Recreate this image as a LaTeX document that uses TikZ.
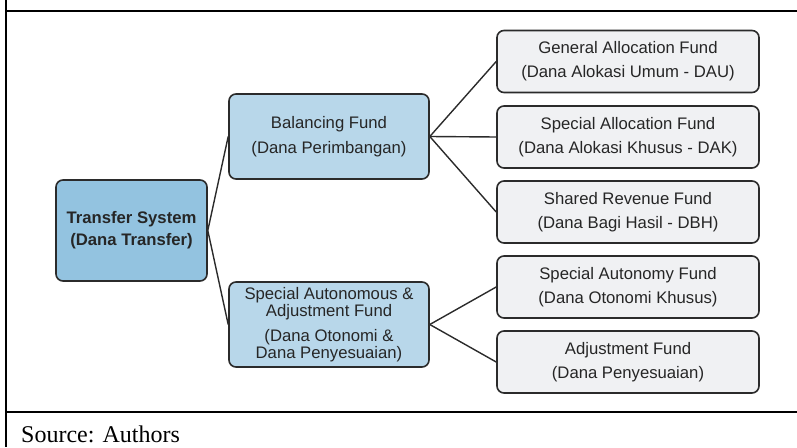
\documentclass[tikz,border=0pt]{standalone}
\usepackage{fontspec}
\setmainfont{Liberation Serif}
\newfontfamily\boxfont{Liberation Sans}
\definecolor{rootfill}{HTML}{93C3E0}
\definecolor{midfill}{HTML}{B8D7EA}
\definecolor{leaffill}{HTML}{F0F1F3}
\definecolor{edgecol}{HTML}{2B2B2B}
\definecolor{txtcol}{HTML}{262626}
\tikzset{
  fbox/.style={draw=edgecol, line width=1.6pt, rounded corners=7pt, inner sep=0pt, align=center, text=txtcol},
  rootbox/.style={fbox, fill=rootfill, minimum width=151pt, minimum height=101pt, font=\boxfont\bfseries\fontsize{16.7}{22}\selectfont},
  midbox/.style={fbox, fill=midfill, minimum width=200pt, minimum height=85pt, font=\boxfont\fontsize{16.7}{25}\selectfont},
  leafbox/.style={fbox, fill=leaffill, minimum width=262pt, minimum height=62pt, font=\boxfont\fontsize{16.7}{24}\selectfont},
  conn/.style={draw=edgecol, line width=1.4pt},
  frameline/.style={draw=black, line width=2pt}
}
\begin{document}
\begin{tikzpicture}[x=1pt,y=-1pt]
\useasboundingbox (0,0) rectangle (797,447);
% frame
\draw[frameline] (6,11) -- (797,11);
\draw[frameline] (6,0) -- (6,447);
\draw[frameline] (6,412) -- (797,412);
\node[anchor=base west, inner sep=0pt, font=\fontsize{24}{28}\selectfont] (src) at (21,442) {Source: Authors};
% nodes
\node[rootbox] (root) at (131.5,230.5) {Transfer System\\(Dana Transfer)};
\node[midbox] (bal) at (329,136.5) {Balancing Fund\\(Dana Perimbangan)};
\node[midbox, font=\boxfont\fontsize{16.7}{17}\selectfont] (sad) at (329,324.5) {Special Autonomous \&\\Adjustment Fund\\[8pt] (Dana Otonomi \&\\Dana Penyesuaian)};
\node[leafbox] (dau) at (628,61.5) {General Allocation Fund\\(Dana Alokasi Umum - DAU)};
\node[leafbox] (dak) at (628,137) {Special Allocation Fund\\(Dana Alokasi Khusus - DAK)};
\node[leafbox] (dbh) at (628,212) {Shared Revenue Fund\\(Dana Bagi Hasil - DBH)};
\node[leafbox] (otsus) at (628,287) {Special Autonomy Fund\\(Dana Otonomi Khusus)};
\node[leafbox] (dp) at (628,362) {Adjustment Fund\\(Dana Penyesuaian)};
% connectors
\draw[conn] (root.east) -- (bal.west);
\draw[conn] (root.east) -- (sad.west);
\draw[conn] (bal.east) -- (dau.west);
\draw[conn] (bal.east) -- (dak.west);
\draw[conn] (bal.east) -- (dbh.west);
\draw[conn] (sad.east) -- (otsus.west);
\draw[conn] (sad.east) -- (dp.west);
\end{tikzpicture}
\end{document}
